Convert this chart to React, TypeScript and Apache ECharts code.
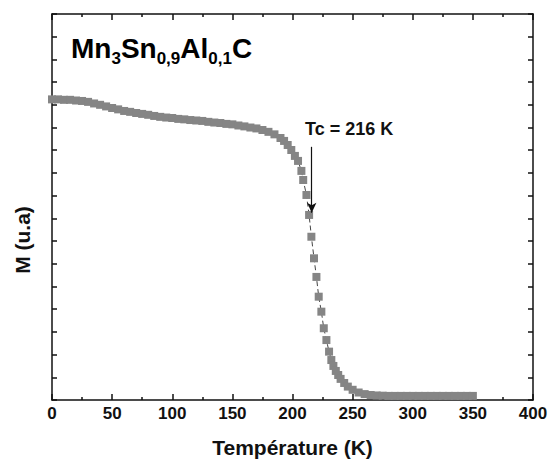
import React, { useEffect, useRef } from "react";
import * as echarts from "echarts";

// Temperature (K)
const temperature = [
  0, 5, 10, 15, 20, 25, 30, 35, 40, 45, 50, 55, 60, 65, 70, 75, 80, 85, 90, 95,
  100, 105, 110, 115, 120, 125, 130, 135, 140, 145, 150, 155, 160, 165, 170, 175,
  180, 185, 190, 193, 196, 199, 202, 204.6, 207.4, 208.9, 211.6, 213.8, 215.7,
  217.9, 219.9, 221.8, 224, 226, 228.2, 230.4, 232.3, 234, 236, 238, 240, 243,
  246, 250, 255, 260, 265, 270, 275, 280, 285, 290, 295, 300, 305, 310, 315, 320,
  325, 330, 335, 340, 345, 350,
];
// Magnetisation (arbitrary units)
const magnetisation = [
  13.24, 13.24, 13.22, 13.22, 13.19, 13.17, 13.13, 13.06, 13.0, 12.93, 12.86,
  12.8, 12.73, 12.69, 12.64, 12.6, 12.56, 12.51, 12.47, 12.44, 12.42, 12.38,
  12.36, 12.33, 12.31, 12.29, 12.25, 12.22, 12.2, 12.16, 12.14, 12.09, 12.05,
  12.0, 11.96, 11.89, 11.81, 11.7, 11.54, 11.41, 11.23, 11.01, 10.75, 10.53,
  10.09, 9.69, 9.03, 8.15, 7.19, 6.24, 5.42, 4.55, 3.89, 3.16, 2.64, 2.13, 1.76,
  1.5, 1.28, 1.1, 0.93, 0.75, 0.59, 0.45, 0.33, 0.26, 0.22, 0.2, 0.19, 0.18,
  0.18, 0.18, 0.18, 0.18, 0.18, 0.18, 0.18, 0.18, 0.18, 0.18, 0.18, 0.18, 0.18,
  0.18,
];

const xTicks = ["0", "50", "100", "150", "200", "250", "300", "350", "400"];
const tcValue = 216;
const arrowFrom = 11.15;
const arrowTo = 8.25;

const FONT = "'Liberation Sans', Arial, Helvetica, sans-serif";

export default function App() {
  const ref = useRef<HTMLDivElement>(null);
  useEffect(() => {
    if (!ref.current) return;
    const chart = echarts.init(ref.current, undefined, { renderer: "svg" });
    const axisLine = { show: true, onZero: false, lineStyle: { color: "#111", width: 1.5 } };
    const tickStyle = { color: "#111", width: 1.5 };
    chart.setOption({
      animation: false,
      backgroundColor: "#ffffff",
      grid: { left: 52, right: 20, top: 14, bottom: 64 },
      xAxis: [
        {
          type: "value",
          min: 0,
          max: 400,
          interval: 50,
          position: "bottom",
          axisLine,
          axisTick: { show: true, inside: true, length: 6, lineStyle: tickStyle },
          minorTick: { show: true, splitNumber: 2, length: 3, lineStyle: tickStyle },
          splitLine: { show: false },
          axisLabel: {
            show: true,
            margin: 5,
            fontFamily: FONT,
            fontWeight: "bold",
            fontSize: 17,
            color: "#111",
            formatter: (v: number) => xTicks[Math.round(v / 50)] ?? String(v),
          },
          name: "Température (K)",
          nameLocation: "middle",
          nameGap: 37,
          nameTextStyle: { fontFamily: FONT, fontWeight: "bold", fontSize: 21, color: "#111" },
        },
        {
          type: "value",
          min: 0,
          max: 400,
          interval: 50,
          position: "top",
          axisLine,
          axisTick: { show: true, inside: true, length: 6, lineStyle: tickStyle },
          minorTick: { show: true, splitNumber: 2, length: 3, lineStyle: tickStyle },
          splitLine: { show: false },
          axisLabel: { show: false },
        },
      ],
      yAxis: [
        {
          type: "value",
          min: 0,
          max: 17,
          interval: 1,
          position: "left",
          axisLine,
          axisTick: { show: true, inside: true, length: 5, lineStyle: tickStyle },
          splitLine: { show: false },
          axisLabel: { show: false },
        },
        {
          type: "value",
          min: 0,
          max: 17,
          interval: 1,
          position: "right",
          axisLine,
          axisTick: { show: true, inside: true, length: 5, lineStyle: tickStyle },
          splitLine: { show: false },
          axisLabel: { show: false },
        },
      ],
      series: [
        {
          type: "line",
          xAxisIndex: 0,
          yAxisIndex: 0,
          data: temperature.map((t, i) => [t, magnetisation[i]]),
          symbol: "rect",
          symbolSize: 8,
          itemStyle: { color: "#858585" },
          lineStyle: { color: "#444", width: 1, type: [5, 3] },
          z: 3,
          markLine: {
            silent: true,
            symbol: ["none", "arrow"],
            symbolSize: [7, 10],
            label: { show: false },
            lineStyle: { color: "#111", width: 1.2, type: "solid" },
            data: [[{ coord: [tcValue, arrowFrom] }, { coord: [tcValue, arrowTo] }]],
          },
        },
      ],
      graphic: [
        {
          type: "text",
          left: 71,
          top: 34,
          style: {
            text: "{a|Mn}{s|3}{a|Sn}{s|0,9}{a|Al}{s|0,1}{a|C}",
            rich: {
              a: { fontFamily: FONT, fontWeight: "bold", fontSize: 28, color: "#111", lineHeight: 38, verticalAlign: "middle" },
              s: { fontFamily: FONT, fontWeight: "bold", fontSize: 17, color: "#111", lineHeight: 38, verticalAlign: "bottom" },
            },
          },
        },
        {
          type: "text",
          left: 305,
          top: 120,
          style: {
            text: "Tc = 216 K",
            fontFamily: FONT,
            fontWeight: "bold",
            fontSize: 18,
            fill: "#111",
          },
        },
        {
          type: "text",
          x: 22,
          y: 240,
          rotation: Math.PI / 2,
          style: {
            text: "M (u.a)",
            fontFamily: FONT,
            fontWeight: "bold",
            fontSize: 21,
            fill: "#111",
            align: "center",
            verticalAlign: "middle",
          },
        },
      ],
    });
    return () => chart.dispose();
  }, []);
  return (
    <div
      ref={ref}
      style={{ position: "fixed", left: 0, top: 0, width: 553, height: 464 }}
    />
  );
}
